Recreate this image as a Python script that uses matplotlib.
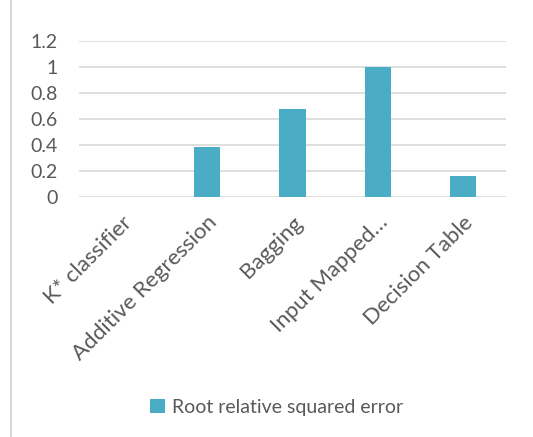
import matplotlib.pyplot as plt
from matplotlib.lines import Line2D

# Dados
methods = ["K* classifier", "Additive Regression", "Bagging", "Input Mapped…", "Decision Table"]
rrse = [0.0, 0.387, 0.675, 1.0, 0.16]
yticks = [0, 0.2, 0.4, 0.6, 0.8, 1, 1.2]
ytick_labels = ["0", "0.2", "0.4", "0.6", "0.8", "1", "1.2"]

bar_color = "#4bacc6"
text_color = "#595959"
grid_color = "#d9d9d9"

plt.rcParams['font.family'] = ['Lato', 'DejaVu Sans']

fig = plt.figure(figsize=(5.33, 4.37), dpi=100)
ax = fig.add_axes([0.148, 0.549, 0.801, 0.357])

x = range(len(methods))
ax.bar(x, rrse, width=0.31, color=bar_color, zorder=3, label="Root relative squared error")

ax.set_xlim(-0.5, len(methods) - 0.5)
ax.set_ylim(0, 1.2)
ax.set_yticks(yticks)
ax.set_yticklabels(ytick_labels, fontsize=14, color=text_color)
ax.set_xticks(list(x))
ax.set_xticklabels(methods, rotation=45, ha="right", rotation_mode="anchor",
                   fontsize=16, color=text_color)
ax.tick_params(axis="both", length=0)
ax.tick_params(axis="y", pad=15)
ax.tick_params(axis="x", pad=11)

ax.yaxis.grid(True, color=grid_color, linewidth=1.2, zorder=0)
for s in ax.spines.values():
    s.set_visible(False)

fig.legend(loc="center", bbox_to_anchor=(0.519, 1 - 407 / 437), frameon=False,
           fontsize=14, labelcolor=text_color, handlelength=0.75, handleheight=0.75,
           handletextpad=0.35)

# borda esquerda
fig.add_artist(Line2D([11 / 533, 11 / 533], [0, 1], color=grid_color, linewidth=1.5,
                      transform=fig.transFigure))

fig.savefig("out.png", dpi=100)
